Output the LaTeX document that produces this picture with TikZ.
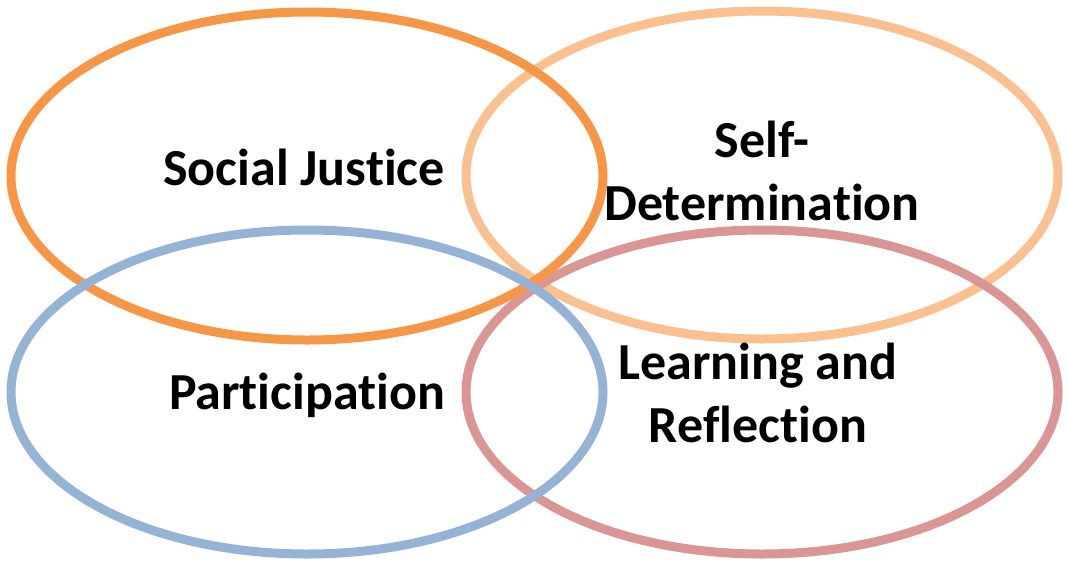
\documentclass[tikz,border=0pt]{standalone}
\usepackage{fontspec}
\setmainfont{Carlito}[Ligatures=NoCommon]
\definecolor{sjorange}{HTML}{F79646}
\definecolor{sdpeach}{HTML}{FAC090}
\definecolor{pablue}{HTML}{95B3D7}
\definecolor{lrrose}{HTML}{D99694}

\begin{document}
\begin{tikzpicture}[x=1pt,y=-1pt]
		\tikzstyle{ring}=[line width=9pt]
		\tikzstyle{topic}=[font=\bfseries\fontsize{52}{63}\selectfont,align=center,inner sep=0,anchor=base]
		\useasboundingbox (0,0) rectangle (1068,563);

		% the four circles of the model
		\draw[ring,sdpeach] (762,175) ellipse [x radius=296pt, y radius=164pt];
		\draw[ring,lrrose] (762,392) ellipse [x radius=296pt, y radius=162pt];
		\draw[ring,sjorange] (307,176) ellipse [x radius=296pt, y radius=164pt];
		\draw[ring,pablue] (307,392) ellipse [x radius=296pt, y radius=162pt];

		% base of a two-line label is its last line
		\node[topic] (sj) at (304,185) {Social Justice};
		\node[topic] (sd) at (762,220) {Self-\\Determination};
		\node[topic] (pa) at (307,409) {Participation};
		\node[topic] (lr) at (758,442) {Learning and\\Reflection};
\end{tikzpicture}
\end{document}
